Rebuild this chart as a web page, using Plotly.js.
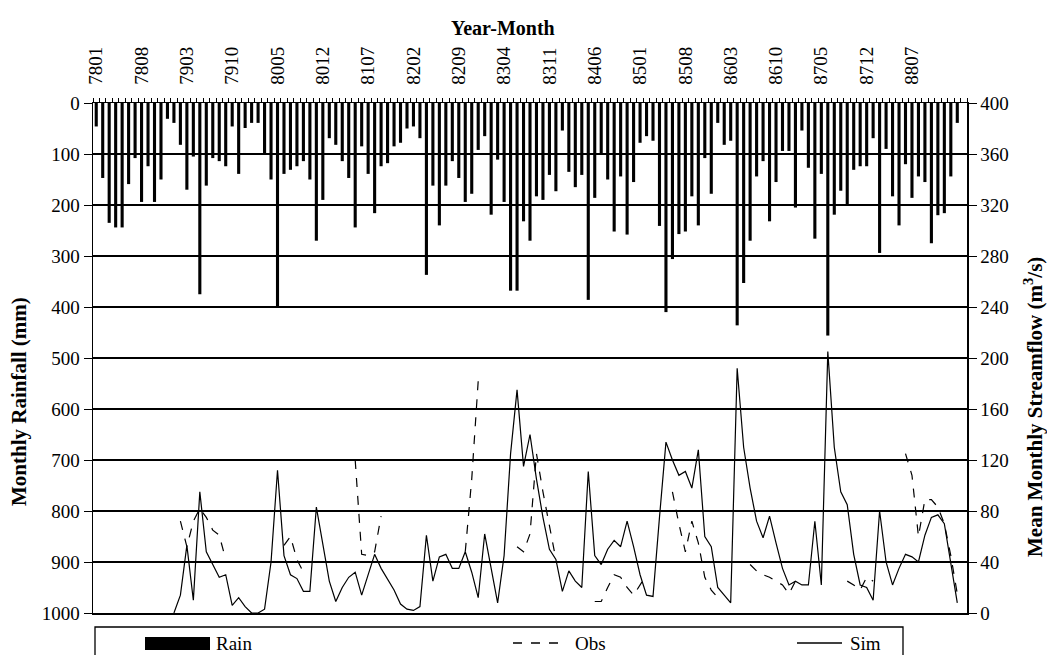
<!DOCTYPE html>
<html>
<head>
<meta charset="utf-8">
<script src="https://cdn.plot.ly/plotly-3.0.1.min.js"></script>
<style>
html,body{margin:0;padding:0;background:#fff;}
#chart{width:1047px;height:655px;}
</style>
</head>
<body>
<div id="chart"></div>
<script>
// Year-Month categories
const months = [
"7801","7802","7803","7804","7805","7806","7807","7808","7809","7810","7811","7812",
"7901","7902","7903","7904","7905","7906","7907","7908","7909","7910","7911","7912",
"8001","8002","8003","8004","8005","8006","8007","8008","8009","8010","8011","8012",
"8101","8102","8103","8104","8105","8106","8107","8108","8109","8110","8111","8112",
"8201","8202","8203","8204","8205","8206","8207","8208","8209","8210","8211","8212",
"8301","8302","8303","8304","8305","8306","8307","8308","8309","8310","8311","8312",
"8401","8402","8403","8404","8405","8406","8407","8408","8409","8410","8411","8412",
"8501","8502","8503","8504","8505","8506","8507","8508","8509","8510","8511","8512",
"8601","8602","8603","8604","8605","8606","8607","8608","8609","8610","8611","8612",
"8701","8702","8703","8704","8705","8706","8707","8708","8709","8710","8711","8712",
"8801","8802","8803","8804","8805","8806","8807","8808","8809","8810","8811","8812",
"8901","8902","8903"];

// labelled ticks on the top axis
const tickLabels = ["7801","7808","7903","7910","8005","8012","8107","8202","8209","8304",
"8311","8406","8501","8508","8603","8610","8705","8712","8807"];

// Monthly rainfall (mm)
const rain = [
46,147,235,244,244,159,108,194,124,194,150,31,
39,82,170,105,375,162,108,114,124,46,139,49,
39,39,98,150,401,139,131,124,114,150,270,190,
69,82,114,147,244,85,139,216,124,118,85,78,
50,46,69,337,162,240,162,114,147,194,178,92,
65,219,111,194,368,368,232,270,183,190,141,173,
54,135,165,141,386,186,98,150,252,144,258,155,
78,65,74,241,410,306,257,252,183,240,108,178,
39,82,74,436,353,270,144,114,232,155,94,94,
205,54,127,266,139,456,219,172,198,131,124,124,
69,294,90,183,240,120,186,144,155,275,220,216,
144,39,null];

// Observed mean monthly streamflow (m3/s)
const obs = [
null,null,null,null,null,null,null,null,null,null,null,null,
null,72,52,72,82,75,65,61,42,null,null,null,
null,null,null,null,null,53,60,42,32,null,null,null,
null,null,null,null,120,46,45,48,76,null,null,null,
null,null,null,null,null,null,null,null,null,48,105,182,
null,null,null,null,null,52,48,62,125,95,70,42,
null,null,null,null,null,9,9,20,30,28,20,14,
22,30,null,null,null,95,70,48,72,55,28,18,
12,null,null,null,null,38,33,30,28,25,22,15,
25,28,null,null,null,null,null,null,25,22,18,28,
25,null,null,null,null,125,108,60,89,89,83,70,
45,15,null];

// Simulated mean monthly streamflow (m3/s)
const sim = [
null,null,null,null,null,null,null,null,null,null,null,null,
0,14,53,10,95,48,38,28,30,6,12,5,
0,0,3,40,112,45,30,27,17,17,83,55,
25,9,20,28,32,14,30,46,35,27,18,7,
3,2,5,61,25,44,46,35,35,48,32,12,
62,35,8,45,125,175,115,140,105,75,50,42,
17,33,25,20,111,45,38,50,57,52,72,52,
30,14,13,75,134,120,108,111,98,128,60,52,
20,14,8,192,130,98,72,59,76,55,35,22,
25,22,22,72,22,205,130,95,85,46,22,20,
10,80,40,22,35,46,44,40,61,75,77,70,
40,8,null];

const tickText = months.map(m => tickLabels.indexOf(m) >= 0 ? m : "");

const serif = "'Liberation Serif', 'Times New Roman', serif";
const FS = 19;

const traces = [
  {type:"bar", x:months, y:rain, yaxis:"y", name:"Rain",
   marker:{color:"#000", line:{width:0}}, hoverinfo:"x+y"},
  {type:"scatter", mode:"lines", x:months, y:obs, yaxis:"y2", name:"Obs",
   line:{color:"#000", width:1.2, dash:"dash"}, connectgaps:false},
  {type:"scatter", mode:"lines", x:months, y:sim, yaxis:"y2", name:"Sim",
   line:{color:"#000", width:1.2}, connectgaps:false}
];

function px(x){ return (x-93)/874; }
function py(y){ return (613-y)/510; }

const layout = {
  width:1047, height:655,
  margin:{l:93, r:80, t:103, b:42},
  paper_bgcolor:"#fff", plot_bgcolor:"#fff",
  showlegend:false,
  bargap:0.52,
  font:{family:serif, size:FS, color:"#000"},
  xaxis:{
    type:"category", side:"top", categoryorder:"array", categoryarray:months,
    tickmode:"array", tickvals:months, ticktext:tickText,
    tickson:"boundaries", ticks:"outside", ticklen:4, tickwidth:1, tickcolor:"#000",
    tickangle:-90, ticklabelstandoff:13,
    showline:true, linecolor:"#000", linewidth:1.5, mirror:true,
    showgrid:false, zeroline:false,
    tickfont:{family:serif, size:FS}
  },
  yaxis:{
    range:[1000,0], dtick:100, tick0:0,
    ticks:"outside", ticklen:8, tickcolor:"#000",
    showline:true, linecolor:"#000", linewidth:1.5,
    showgrid:true, gridcolor:"#000", gridwidth:1.5, zeroline:false,
    tickfont:{family:serif, size:FS}
  },
  yaxis2:{
    overlaying:"y", side:"right", range:[0,400], dtick:40, tick0:0,
    ticks:"outside", ticklen:8, tickcolor:"#000",
    showline:true, linecolor:"#000", linewidth:1.5,
    showgrid:false, zeroline:false,
    tickfont:{family:serif, size:FS}
  },
  shapes:[
    {type:"rect", xref:"paper", yref:"paper", x0:px(95), x1:px(903), y0:py(627), y1:py(680),
     line:{color:"#000", width:1.3}, fillcolor:"rgba(0,0,0,0)"},
    {type:"rect", xref:"paper", yref:"paper", x0:px(145), x1:px(210), y0:py(637), y1:py(650),
     line:{width:0}, fillcolor:"#000"},
    {type:"line", xref:"paper", yref:"paper", x0:px(513), x1:px(563), y0:py(643), y1:py(643),
     line:{color:"#000", width:1.3, dash:"dash"}},
    {type:"line", xref:"paper", yref:"paper", x0:px(797), x1:px(842), y0:py(643), y1:py(643),
     line:{color:"#000", width:1.3}}
  ],
  annotations:[
    {xref:"paper", yref:"paper", x:px(503), y:py(28), text:"<b>Year-Month</b>", showarrow:false,
     xanchor:"center", yanchor:"middle", font:{family:serif, size:20}},
    {xref:"paper", yref:"paper", x:px(19), y:py(402), text:"<b>Monthly Rainfall (mm)</b>", showarrow:false,
     textangle:-90, xanchor:"center", yanchor:"middle", font:{family:serif, size:21}},
    {xref:"paper", yref:"paper", x:px(1033), y:py(407), text:"<b>Mean Monthly Streamflow (m<sup>3</sup>/s)</b>", showarrow:false,
     textangle:-90, xanchor:"center", yanchor:"middle", font:{family:serif, size:21}},
    {xref:"paper", yref:"paper", x:px(214), y:py(643), text:"Rain", showarrow:false,
     xanchor:"left", yanchor:"middle", font:{family:serif, size:FS}},
    {xref:"paper", yref:"paper", x:px(573), y:py(643), text:"Obs", showarrow:false,
     xanchor:"left", yanchor:"middle", font:{family:serif, size:FS}},
    {xref:"paper", yref:"paper", x:px(848), y:py(643), text:"Sim", showarrow:false,
     xanchor:"left", yanchor:"middle", font:{family:serif, size:FS}}
  ]
};

Plotly.newPlot("chart", traces, layout, {staticPlot:true, displayModeBar:false});
</script>
</body>
</html>
